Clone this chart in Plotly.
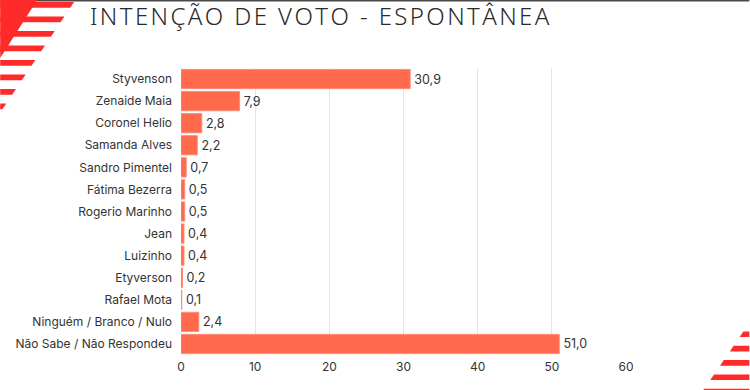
import plotly.graph_objects as go

categories = ["Styvenson", "Zenaide Maia", "Coronel Helio", "Samanda Alves",
              "Sandro Pimentel", "Fátima Bezerra", "Rogerio Marinho", "Jean",
              "Luizinho", "Etyverson", "Rafael Mota", "Ninguém / Branco / Nulo",
              "Não Sabe / Não Respondeu"]
values = [30.9, 7.9, 2.8, 2.2, 0.7, 0.5, 0.5, 0.4, 0.4, 0.2, 0.1, 2.4, 51.0]
x_ticks = [0, 10, 20, 30, 40, 50, 60]
title_text = "INTENÇÃO DE VOTO - ESPONTÂNEA"

W, H = 750, 390
ML, MR, MT, MB = 181, 123.5, 68, 35
PW, PH = W - ML - MR, H - MT - MB

BAR = "#FF6A4D"
RED = "#FF2B2B"


def px(x):
    return (x - ML) / PW


def py(y):
    return (H - MB - y) / PH


def poly(points, color):
    d = "M " + " L ".join(f"{px(a):.5f},{py(b):.5f}" for a, b in points) + " Z"
    return dict(type="path", xref="paper", yref="paper", path=d,
                fillcolor=color, line=dict(width=0), layer="above")


shapes = []
# top dark line
shapes.append(dict(type="rect", xref="paper", yref="paper",
                   x0=px(0), x1=px(W), y0=py(0), y1=py(1.6),
                   fillcolor="#4a4a4a", line=dict(width=0), layer="above"))
# top-left triangle
shapes.append(poly([(0, 0), (37, 0), (0, 58)], RED))
slope = 0.67
for i in range(8):
    yt = 2 + 14.5 * i
    yb = yt + 5.8
    rt = 74 - 9.7 * i
    shapes.append(poly([(0, yt), (rt, yt), (rt - slope * (yb - yt), yb), (0, yb)], RED))
# bottom-right stripes
for i in range(5):
    yt = 331.5 + 14.3 * i
    yb = yt + 5.6
    lt = 744 - 9.8 * i
    shapes.append(poly([(lt, yt), (W, yt), (W, yb), (lt - slope * (yb - yt), yb)], RED))

spaced_title = "\u200a".join(title_text)

fig = go.Figure(go.Bar(
    x=values, y=categories, orientation="h",
    marker=dict(color=BAR, line=dict(color="#FF8C75", width=1)),
    texttemplate="\u200a%{x:.1f}", textposition="outside", cliponaxis=False,
    textfont=dict(family="Inter, Noto Sans, sans-serif", size=12.5, color="#333333"),
    hoverinfo="skip",
))

fig.update_layout(
    width=W, height=H,
    margin=dict(l=ML, r=MR, t=MT, b=MB, pad=0),
    paper_bgcolor="white", plot_bgcolor="white",
    separators=",.",
    bargap=0.13,
    showlegend=False,
    shapes=shapes,
    title=dict(text=spaced_title, xref="container", yref="container",
               x=90 / W, y=1 - 16.5 / H, xanchor="left", yanchor="middle",
               font=dict(family="Noto Sans, sans-serif", size=24, color="#2a2a2a", weight=300)),
    xaxis=dict(range=[0, 60], tickvals=x_ticks, showgrid=True, gridcolor="#E5E5E5",
               gridwidth=1, zeroline=False, showline=False, ticks="",
               ticklabelstandoff=3,
               tickfont=dict(family="Inter, Noto Sans, sans-serif", size=12, color="#333333")),
    yaxis=dict(autorange="reversed", showgrid=False, zeroline=False, showline=False,
               ticks="", ticklabelstandoff=8,
               tickfont=dict(family="Inter, Noto Sans, sans-serif", size=12, color="#333333")),
)

fig.write_html("out.html", config={"displayModeBar": False, "staticPlot": True})

with open("out.html", encoding="utf-8") as f:
    html = f.read()
html = html.replace("<head>", "<head><style>html,body{margin:0;padding:0;overflow:hidden;}</style>", 1)
with open("out.html", "w", encoding="utf-8") as f:
    f.write(html)
